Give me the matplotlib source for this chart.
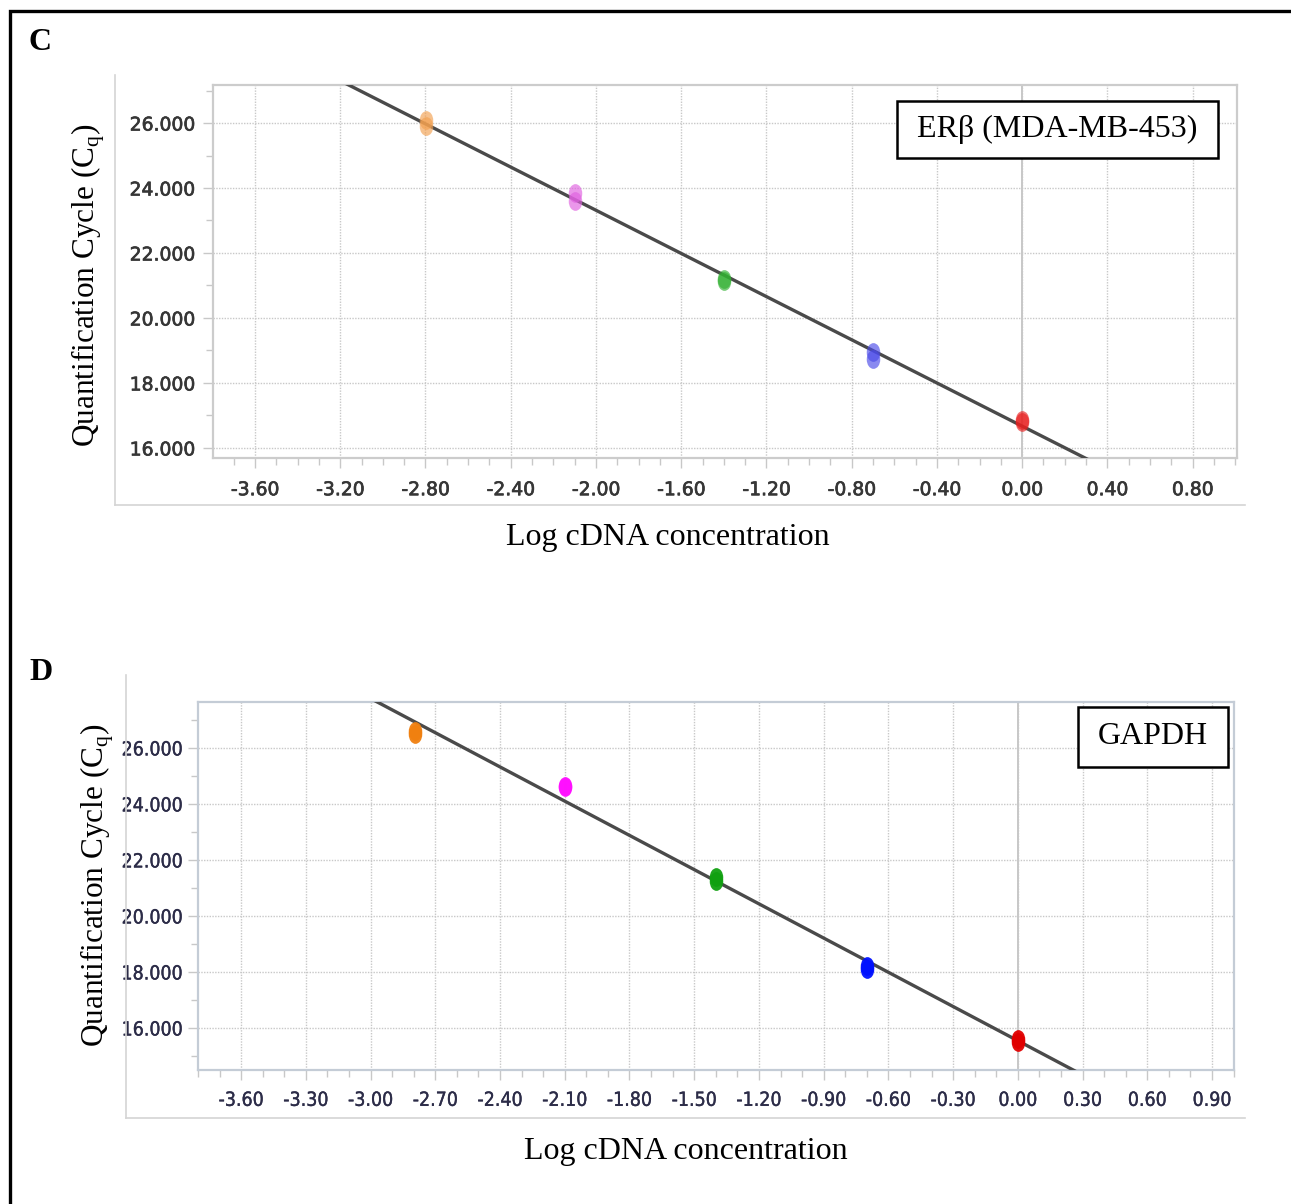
import numpy as np
import matplotlib.pyplot as plt
import matplotlib.patheffects as pe
from matplotlib.markers import MarkerStyle
from matplotlib.transforms import Affine2D
from matplotlib.lines import Line2D
from matplotlib.patches import Rectangle
from matplotlib.ticker import MultipleLocator, FormatStrFormatter

plt.rcParams['mathtext.fontset'] = 'custom'
plt.rcParams['mathtext.rm'] = 'Liberation Serif'
plt.rcParams['axes.unicode_minus'] = False

W, H = 1291, 1204

# log dilution series (5-fold), duplicate Cq per dilution
log_conc = [0.0, -0.699, -1.398, -2.097, -2.796]
dot_colors_c = ['#e82020', '#4a4ae8', '#30b030', '#e060e0', '#f2a050']
dot_colors_d = ['#e00000', '#0010ff', '#10a010', '#ff10ff', '#f08010']

erb_cq_rep1 = [16.85, 18.95, 21.20, 23.85, 26.10]
erb_cq_rep2 = [16.80, 18.75, 21.15, 23.60, 25.90]

gapdh_cq_rep1 = [15.60, 18.20, 21.40, 24.65, 26.60]
gapdh_cq_rep2 = [15.50, 18.10, 21.25, 24.60, 26.50]

erb_xticks = [-3.60, -3.20, -2.80, -2.40, -2.00, -1.60, -1.20, -0.80, -0.40, 0.00, 0.40, 0.80]
gapdh_xticks = [-3.60, -3.30, -3.00, -2.70, -2.40, -2.10, -1.80, -1.50, -1.20, -0.90,
                -0.60, -0.30, 0.00, 0.30, 0.60, 0.90]
cq_ticks = [16, 18, 20, 22, 24, 26]


def fig_rect(x0, y0, x1, y1):
    # pixel box (top-left origin) -> figure fraction [l, b, w, h]
    return [x0 / W, 1 - y1 / H, (x1 - x0) / W, (y1 - y0) / H]


def draw_panel(ax, rep1, rep2, colors, alpha, xticks, xlim, ylim, tick_font, tick_color,
               tick_size, stretch, stroke, spine_color, xpad, ypad):
    x = np.array(log_conc * 2)
    y = np.array(rep1 + rep2)
    slope, icpt = np.polyfit(x, y, 1)
    xs = np.array([xlim[0], xlim[1]])
    ax.plot(xs, slope * xs + icpt, color='#4a4a4a', lw=2.4, zorder=3, solid_capstyle='butt')

    ell = MarkerStyle('o', transform=Affine2D().scale(0.72, 1.0))
    for xi, a, b, c in zip(log_conc, rep1, rep2, colors):
        ax.plot([xi, xi], [a, b], ls='none', marker=ell, ms=13.5, color=c, mec='none',
                alpha=alpha, zorder=4)

    ax.axvline(0, color='#c4c4c4', lw=1.3, zorder=1)
    ax.set_xlim(*xlim)
    ax.set_ylim(*ylim)
    ax.set_xticks(xticks)
    ax.set_yticks(cq_ticks)
    ax.xaxis.set_minor_locator(MultipleLocator(0.1))
    ax.yaxis.set_minor_locator(MultipleLocator(1))
    ax.xaxis.set_major_formatter(FormatStrFormatter('%.2f'))
    ax.yaxis.set_major_formatter(FormatStrFormatter('%.3f'))
    ax.grid(True, which='major', color='#c8c8c8', ls=(0, (1, 1)), lw=1.0, zorder=0)
    ax.tick_params(axis='both', which='major', length=7, width=1, color='#c8c8c8',
                   labelsize=tick_size, labelcolor=tick_color, direction='out')
    ax.tick_params(axis='both', which='minor', length=5, width=1, color='#c8c8c8',
                   direction='out')
    ax.tick_params(axis='x', which='major', pad=xpad)
    ax.tick_params(axis='y', which='major', pad=ypad)
    for lab in ax.get_xticklabels() + ax.get_yticklabels():
        lab.set_family(tick_font)
        lab.set_stretch(stretch)
        lab.set_path_effects([pe.withStroke(linewidth=stroke, foreground=tick_color)])
    for sp in ax.spines.values():
        sp.set_color(spine_color)
        sp.set_linewidth(1.6)


def label_box(x0, y0, x1, y1, text):
    fig.add_artist(Rectangle((x0 / W, 1 - y1 / H), (x1 - x0) / W, (y1 - y0) / H,
                             transform=fig.transFigure, fc='white', ec='black', lw=1.8,
                             zorder=5))
    fig.text((x0 + x1) / 2 / W, 1 - (y0 + y1) / 2 / H, text, family=serif, fontsize=23,
             ha='center', va='center', zorder=6)


fig = plt.figure(figsize=(W / 100, H / 100), dpi=100)

# outer black frame (right side runs off the page)
fig.add_artist(Rectangle((10 / W, -0.01), 1.05, 1 - 11 / H + 0.01,
                         transform=fig.transFigure, fill=False, ec='black', lw=2.4))

serif = 'Liberation Serif'
ylabel = r'Quantification Cycle (C$_\mathregular{q}$)'

# panel C: ER-beta
axc = fig.add_axes(fig_rect(213, 85, 1237, 458))
draw_panel(axc, erb_cq_rep1, erb_cq_rep2, dot_colors_c, 0.65, erb_xticks,
           (-3.797, 1.008), (15.69, 27.17), ['DejaVu Sans'], '#363636', 13.5, 'normal', 0.5,
           '#cccccc', 9, 6)
fig.add_artist(Line2D([115 / W, 115 / W], [1 - 75 / H, 1 - 505 / H], color='#d4d4d4', lw=1.2))
fig.add_artist(Line2D([115 / W, 1245 / W], [1 - 505 / H, 1 - 505 / H], color='#d4d4d4', lw=1.2))
fig.text(29 / W, 1 - 42 / H, 'C', family=serif, weight='bold', fontsize=23, va='center')
fig.text(88 / W, 1 - 285 / H, ylabel, family=serif, fontsize=22.5, rotation=90,
         ha='center', va='center')
fig.text(668 / W, 1 - 537 / H, 'Log cDNA concentration', family=serif, fontsize=23,
         ha='center', va='center')
label_box(897, 101, 1218, 158, 'ERβ (MDA-MB-453)')

# panel D: GAPDH
axd = fig.add_axes(fig_rect(198, 702, 1234, 1070))
draw_panel(axd, gapdh_cq_rep1, gapdh_cq_rep2, dot_colors_d, 0.95, gapdh_xticks,
           (-3.80, 1.002), (14.5, 27.64), ['DejaVu Sans'], '#2c2c48', 14, 'condensed', 0.25,
           '#c4ccd6', 8, 4)
fig.add_artist(Line2D([126 / W, 126 / W], [1 - 675 / H, 1 - 1118 / H], color='#d4d4d4', lw=1.2))
fig.add_artist(Line2D([126 / W, 1245 / W], [1 - 1118 / H, 1 - 1118 / H], color='#d4d4d4', lw=1.2))
fig.text(29 / W, 1 - 673 / H, 'D', family=serif, weight='bold', fontsize=23, va='center')
fig.text(97 / W, 1 - 885 / H, ylabel, family=serif, fontsize=22.5, rotation=90,
         ha='center', va='center')
fig.text(686 / W, 1 - 1152 / H, 'Log cDNA concentration', family=serif, fontsize=23,
         ha='center', va='center')
label_box(1078, 707, 1228, 767, 'GAPDH')

fig.savefig('out.png', dpi=100)
